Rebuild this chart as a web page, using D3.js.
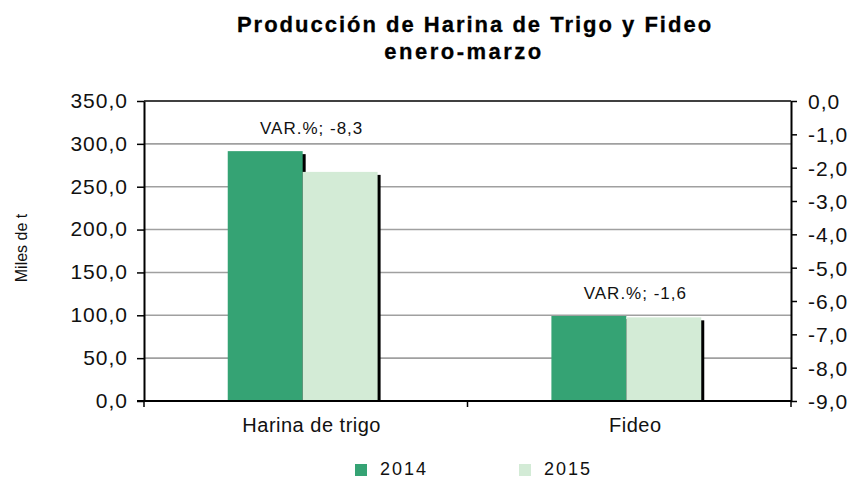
<!DOCTYPE html>
<html>
<head>
<meta charset="utf-8">
<script src="https://cdn.jsdelivr.net/npm/d3@7"></script>
<style>
  body { margin: 0; background: #fff; }
  svg { font-family: "Liberation Sans", Arial, sans-serif; }
</style>
</head>
<body>
<div id="chart"></div>
<script>
// datos del gráfico
const categorias = ["Harina de trigo", "Fideo"]
const series = ["2014", "2015"]
const valores2014 = [291.5, 99.2]
const valores2015 = [267.3, 97.6]
const variacion = [-8.3, -1.6]
const ticksIzq = [0, 50, 100, 150, 200, 250, 300, 350]
const ticksDer = [-9, -8, -7, -6, -5, -4, -3, -2, -1, 0]

const colores = { "2014": "#35a374", "2015": "#d3ebd6" }

const W = 856, H = 480
const margin = { left: 144, right: 65, top: 101, bottom: 79 }
const x0 = margin.left, x1 = W - margin.right
const yTop = margin.top, yBot = H - margin.bottom

const fmt = d => d.toFixed(1).replace(".", ",")

const svg = d3.select("#chart").append("svg").attr("width", W).attr("height", H)

// título
svg.append("text")
  .attr("x", 475).attr("y", 32)
  .attr("text-anchor", "middle")
  .style("font-size", "22px").style("font-weight", "bold")
  .style("letter-spacing", "2px")
  .attr("stroke", "#000").attr("stroke-width", 0.3)
  .text("Producción de Harina de Trigo y Fideo")
svg.append("text")
  .attr("x", 464).attr("y", 59)
  .attr("text-anchor", "middle")
  .style("font-size", "22px").style("font-weight", "bold")
  .style("letter-spacing", "2.5px")
  .attr("stroke", "#000").attr("stroke-width", 0.3)
  .text("enero-marzo")

// escalas
const y = d3.scaleLinear().domain([0, 350]).range([yBot, yTop])
const y2 = d3.scaleLinear().domain([-9, 0]).range([yBot, yTop])
const xCat = d3.scaleBand().domain(categorias).range([x0 - 3, x1 - 3])
  .paddingInner(0.537).paddingOuter(0.268)
const xSer = d3.scaleBand().domain(series).range([0, xCat.bandwidth()])

// líneas de cuadrícula
svg.append("g")
  .selectAll("line")
  .data(ticksIzq.filter(d => d > 0 && d < 350))
  .enter()
  .append("line")
  .attr("x1", x0).attr("x2", x1)
  .attr("y1", d => y(d)).attr("y2", d => y(d))
  .attr("stroke", "#a0a0a0")
  .attr("stroke-width", 1.6)

// borde superior
svg.append("line")
  .attr("x1", x0).attr("x2", x1)
  .attr("y1", y(350)).attr("y2", y(350))
  .attr("stroke", "#000").attr("stroke-width", 1.6)

// barras con sombra
const filas = categorias.map((c, i) => ({ cat: c, vals: [valores2014[i], valores2015[i]] }))
const grupos = svg.append("g")
  .selectAll("g")
  .data(filas)
  .enter()
  .append("g")
  .attr("transform", d => "translate(" + xCat(d.cat) + ",0)")

grupos.each(function (d) {
  const g = d3.select(this)
  series.forEach((s, j) => {
    const v = d.vals[j]
    g.append("rect")
      .attr("x", xSer(s) + 3)
      .attr("y", y(v) + 3)
      .attr("width", xSer.bandwidth())
      .attr("height", yBot - y(v) - 3)
      .attr("fill", "#000")
    g.append("rect")
      .attr("x", xSer(s))
      .attr("y", y(v))
      .attr("width", xSer.bandwidth())
      .attr("height", yBot - y(v))
      .attr("fill", colores[s])
  })
})

// etiquetas de variación
svg.append("g")
  .selectAll("text")
  .data(filas)
  .enter()
  .append("text")
  .attr("x", (d, i) => xCat(d.cat) + xCat.bandwidth() / 2 + 9)
  .attr("y", d => y(d3.max(d.vals)) - 17)
  .attr("text-anchor", "middle")
  .style("font-size", "17px")
  .style("letter-spacing", "1px")
  .attr("fill", "#111")
  .text((d, i) => "VAR.%; " + fmt(variacion[i]))

// eje izquierdo
const ejeIzq = svg.append("g")
  .attr("transform", "translate(" + x0 + ",0)")
  .call(d3.axisLeft(y).tickValues(ticksIzq).tickFormat(fmt).tickSize(7).tickSizeOuter(0))
ejeIzq.select(".domain").attr("stroke", "#000").attr("stroke-width", 2)
ejeIzq.selectAll(".tick line").attr("stroke", "#000").attr("stroke-width", 1.5)
ejeIzq.selectAll(".tick text")
  .attr("x", -16).attr("dy", "0.3em")
  .style("font-size", "21px").style("letter-spacing", "1px")
  .attr("fill", "#111")

// eje derecho
const ejeDer = svg.append("g")
  .attr("transform", "translate(" + x1 + ",0)")
  .call(d3.axisRight(y2).tickValues(ticksDer).tickFormat(fmt).tickSize(6).tickSizeOuter(0))
ejeDer.select(".domain").attr("stroke", "#000").attr("stroke-width", 2)
ejeDer.selectAll(".tick line").attr("stroke", "#000").attr("stroke-width", 1.5)
ejeDer.selectAll(".tick text")
  .attr("x", 17).attr("dy", "0.35em")
  .style("font-size", "21px").style("letter-spacing", "1px")
  .attr("fill", "#111")

// eje inferior
svg.append("line")
  .attr("x1", x0 - 7).attr("x2", x1)
  .attr("y1", yBot).attr("y2", yBot)
  .attr("stroke", "#000").attr("stroke-width", 2)
svg.append("g")
  .selectAll("line")
  .data([x0, (x0 + x1) / 2, x1])
  .enter()
  .append("line")
  .attr("x1", d => d).attr("x2", d => d)
  .attr("y1", yBot).attr("y2", yBot + 6)
  .attr("stroke", "#000").attr("stroke-width", 1.5)
svg.append("g")
  .selectAll("text")
  .data(categorias)
  .enter()
  .append("text")
  .attr("x", d => xCat(d) + xCat.bandwidth() / 2 + 9)
  .attr("y", yBot + 31)
  .attr("text-anchor", "middle")
  .style("font-size", "20px").style("letter-spacing", "0.5px")
  .attr("fill", "#111")
  .text(d => d)

// título eje y
svg.append("text")
  .attr("transform", "translate(27,248) rotate(-90)")
  .attr("text-anchor", "middle")
  .style("font-size", "16px")
  .attr("fill", "#111")
  .text("Miles de t")

// leyenda
const leyX = [355, 519]
const ley = svg.append("g")
  .selectAll("g")
  .data(series)
  .enter()
  .append("g")
  .attr("transform", (d, i) => "translate(" + leyX[i] + ",464)")
ley.append("rect")
  .attr("width", 12).attr("height", 12)
  .attr("fill", d => colores[d])
ley.append("text")
  .attr("x", 25).attr("y", 11)
  .style("font-size", "18px").style("letter-spacing", "2px")
  .attr("fill", "#111")
  .text(d => d)
</script>
</body>
</html>
